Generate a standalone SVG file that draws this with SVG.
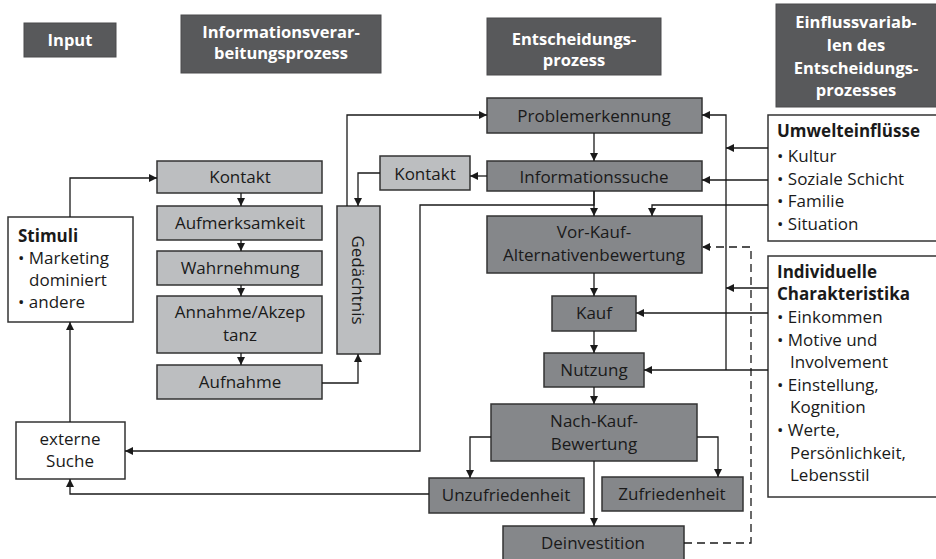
<svg xmlns="http://www.w3.org/2000/svg" width="936" height="559" viewBox="0 0 936 559">
  <style>
    text { font-family: "Open Sans", "Noto Sans", "Liberation Sans", sans-serif; font-size: 17px; fill: #1a1a1a; }
    .hdr rect { fill: #58595b; stroke: #4a4b4d; stroke-width: 1; }
    .hdr text { fill: #ffffff; font-weight: bold; font-size: 16.5px; text-anchor: middle; }
    .light rect { fill: #bcbec0; stroke: #333333; stroke-width: 1.5; }
    .dark rect { fill: #85878a; stroke: #333333; stroke-width: 1.5; }
    .white rect { fill: #ffffff; stroke: #333333; stroke-width: 1.5; }
    .c { text-anchor: middle; }
    .b { font-weight: bold; }
    #connectors path { fill: none; stroke: #1a1a1a; stroke-width: 1.3; }
    #connectors path.dash { stroke-dasharray: 8 5; }
  </style>
  <defs>
    <marker id="arr" viewBox="0 0 10 10" refX="10" refY="5" markerWidth="8" markerHeight="8" markerUnits="userSpaceOnUse" orient="auto">
      <path d="M0,0 L10,5 L0,10 Z" fill="#1a1a1a"/>
    </marker>
  </defs>

  <!-- column headings -->
  <g id="hdr-input" class="hdr">
    <rect x="24" y="23" width="92" height="34"/>
    <text x="70" y="46">Input</text>
  </g>
  <g id="hdr-info" class="hdr">
    <rect x="181" y="15" width="200" height="58"/>
    <text x="281" y="38">Informationsverar-</text>
    <text x="281" y="59">beitungsprozess</text>
  </g>
  <g id="hdr-entscheidung" class="hdr">
    <rect x="487" y="18" width="174" height="57"/>
    <text x="574" y="45">Entscheidungs-</text>
    <text x="574" y="66">prozess</text>
  </g>
  <g id="hdr-einfluss" class="hdr">
    <rect x="776" y="4" width="165" height="103"/>
    <text x="856" y="28">Einflussvariab-</text>
    <text x="856" y="51">len des</text>
    <text x="856" y="74">Entscheidungs-</text>
    <text x="856" y="96">prozesses</text>
  </g>

  <!-- input -->
  <g id="stimuli" class="white">
    <rect x="8" y="217" width="125" height="105"/>
    <text x="18" y="242" class="b">Stimuli</text>
    <text x="18" y="264">• Marketing</text>
    <text x="29" y="286">dominiert</text>
    <text x="18" y="308">• andere</text>
  </g>
  <g id="externe-suche" class="white">
    <rect x="16" y="422" width="109" height="57"/>
    <text x="70" y="445" class="c">externe</text>
    <text x="70" y="467" class="c">Suche</text>
  </g>

  <!-- information processing -->
  <g id="kontakt1" class="light">
    <rect x="157" y="161" width="165" height="32"/>
    <text x="240" y="183" class="c">Kontakt</text>
  </g>
  <g id="aufmerksamkeit" class="light">
    <rect x="157" y="206" width="165" height="34"/>
    <text x="240" y="229" class="c">Aufmerksamkeit</text>
  </g>
  <g id="wahrnehmung" class="light">
    <rect x="157" y="251" width="165" height="34"/>
    <text x="240" y="274" class="c">Wahrnehmung</text>
  </g>
  <g id="annahme" class="light">
    <rect x="157" y="296" width="165" height="57"/>
    <text x="240" y="318" class="c">Annahme/Akzep</text>
    <text x="240" y="341" class="c">tanz</text>
  </g>
  <g id="aufnahme" class="light">
    <rect x="157" y="365" width="165" height="34"/>
    <text x="240" y="388" class="c">Aufnahme</text>
  </g>
  <g id="gedaechtnis" class="light">
    <rect x="337" y="206" width="43" height="148"/>
    <text x="358" y="280" class="c" transform="rotate(90 358 280)" dy="6">Gedächtnis</text>
  </g>
  <g id="kontakt2" class="light">
    <rect x="380" y="156" width="90" height="34"/>
    <text x="425" y="180" class="c">Kontakt</text>
  </g>

  <!-- decision process -->
  <g id="problemerkennung" class="dark">
    <rect x="487" y="98" width="215" height="35"/>
    <text x="594" y="122" class="c">Problemerkennung</text>
  </g>
  <g id="informationssuche" class="dark">
    <rect x="487" y="161" width="215" height="30"/>
    <text x="594" y="183" class="c">Informationssuche</text>
  </g>
  <g id="vorkauf" class="dark">
    <rect x="487" y="216" width="215" height="57"/>
    <text x="594" y="238" class="c">Vor-Kauf-</text>
    <text x="594" y="261" class="c">Alternativenbewertung</text>
  </g>
  <g id="kauf" class="dark">
    <rect x="552" y="296" width="84" height="35"/>
    <text x="594" y="319" class="c">Kauf</text>
  </g>
  <g id="nutzung" class="dark">
    <rect x="544" y="353" width="100" height="34"/>
    <text x="594" y="376" class="c">Nutzung</text>
  </g>
  <g id="nachkauf" class="dark">
    <rect x="491" y="404" width="206" height="57"/>
    <text x="594" y="427" class="c">Nach-Kauf-</text>
    <text x="594" y="450" class="c">Bewertung</text>
  </g>
  <g id="unzufriedenheit" class="dark">
    <rect x="429" y="478" width="155" height="35"/>
    <text x="506" y="501" class="c">Unzufriedenheit</text>
  </g>
  <g id="zufriedenheit" class="dark">
    <rect x="602" y="477" width="141" height="34"/>
    <text x="672" y="500" class="c">Zufriedenheit</text>
  </g>
  <g id="deinvestition" class="dark">
    <rect x="503" y="526" width="181" height="40"/>
    <text x="593" y="549" class="c">Deinvestition</text>
  </g>

  <!-- influencing variables -->
  <g id="umwelt" class="white">
    <rect x="768" y="115" width="175" height="126"/>
    <text x="777" y="137" class="b">Umwelteinflüsse</text>
    <text x="777" y="162">• Kultur</text>
    <text x="777" y="185">• Soziale Schicht</text>
    <text x="777" y="207">• Familie</text>
    <text x="777" y="230">• Situation</text>
  </g>
  <g id="individuell" class="white">
    <rect x="768" y="256" width="175" height="241"/>
    <text x="777" y="278" class="b">Individuelle</text>
    <text x="777" y="300" class="b">Charakteristika</text>
    <text x="777" y="323">• Einkommen</text>
    <text x="777" y="346">• Motive und</text>
    <text x="790" y="368">Involvement</text>
    <text x="777" y="391">• Einstellung,</text>
    <text x="790" y="413">Kognition</text>
    <text x="777" y="436">• Werte,</text>
    <text x="790" y="459">Persönlichkeit,</text>
    <text x="790" y="481">Lebensstil</text>
  </g>

  <g id="connectors">
    <!-- input to information processing -->
    <path d="M70,217 V178 H157" marker-end="url(#arr)"/>
    <path d="M70,422 V322" marker-end="url(#arr)"/>
    <path d="M429,494 H70 V479" marker-end="url(#arr)"/>
    <path d="M594,191 V205 H420 V451 H125" marker-end="url(#arr)"/>

    <!-- information processing chain -->
    <path d="M241,193 V206" marker-end="url(#arr)"/>
    <path d="M241,240 V251" marker-end="url(#arr)"/>
    <path d="M241,285 V296" marker-end="url(#arr)"/>
    <path d="M241,353 V365" marker-end="url(#arr)"/>
    <path d="M322,383 H358 V354" marker-end="url(#arr)"/>
    <path d="M347,206 V115 H487" marker-end="url(#arr)"/>
    <path d="M380,173 H358 V206" marker-end="url(#arr)"/>
    <path d="M487,176 H470" marker-end="url(#arr)"/>

    <!-- decision chain -->
    <path d="M594,133 V161" marker-end="url(#arr)"/>
    <path d="M594,191 V216" marker-end="url(#arr)"/>
    <path d="M594,273 V296" marker-end="url(#arr)"/>
    <path d="M594,331 V353" marker-end="url(#arr)"/>
    <path d="M594,387 V404" marker-end="url(#arr)"/>
    <path d="M594,461 V526" marker-end="url(#arr)"/>
    <path d="M491,437 H470 V478" marker-end="url(#arr)"/>
    <path d="M697,437 H718 V477" marker-end="url(#arr)"/>
    <path class="dash" d="M684,543 H751 V247 H702" marker-end="url(#arr)"/>

    <!-- influences -->
    <path d="M726,370 V115 H702" marker-end="url(#arr)"/>
    <path d="M768,148 H726" marker-end="url(#arr)"/>
    <path d="M768,180 H702" marker-end="url(#arr)"/>
    <path d="M768,205 H652 V216" marker-end="url(#arr)"/>
    <path d="M768,288 H726" marker-end="url(#arr)"/>
    <path d="M768,313 H636" marker-end="url(#arr)"/>
    <path d="M768,370 H644" marker-end="url(#arr)"/>
  </g>
</svg>
